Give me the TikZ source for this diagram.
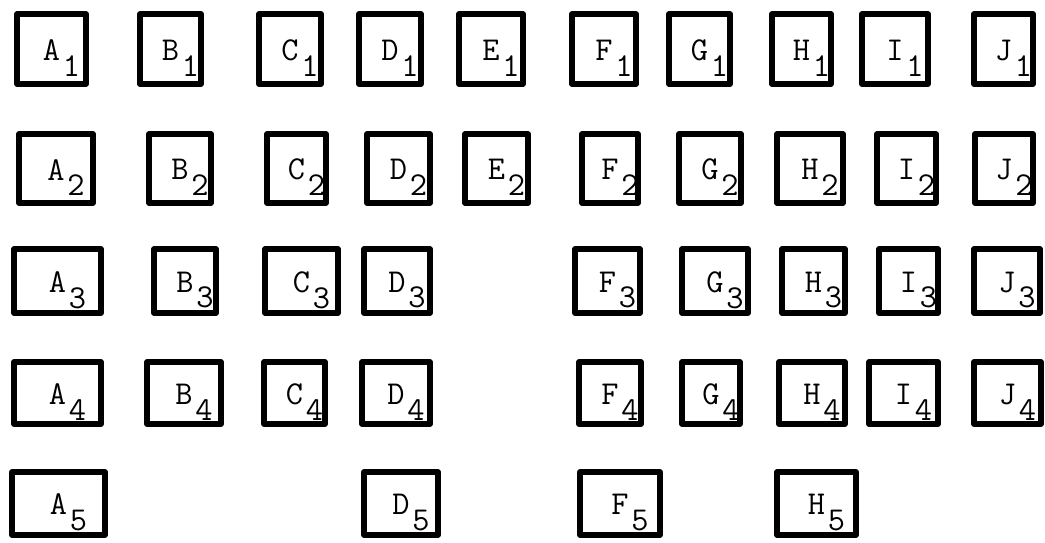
\documentclass[tikz,border=0pt]{standalone}
\usepackage{tikz}
% letter with its index set low, typewriter style
\newcommand{\cellname}[2]{#1\kern1.5pt\raisebox{-9pt}{#2}}

\begin{document}
\begin{tikzpicture}[x=0.02cm, y=-0.02cm,
  cell/.style={draw=black, line width=3pt, line join=round, inner sep=0pt},
  tag/.style={font=\fontsize{19}{21}\selectfont\ttfamily, inner sep=0pt,
    xshift=0.2cm, yshift=-0.18cm}]
  \fill[white] (0,0) rectangle (1045,542);
  % Row 1
  \foreach \n/\cx/\cy/\w/\h/\l/\d in {
      a1/51.5/49/69/70/A/1, b1/170.5/49/61/70/B/1, c1/290/49/62/70/C/1,
      d1/390/49/62/70/D/1, e1/491/49/64/70/E/1, f1/604/49/64/70/F/1,
      g1/699.5/49/61/70/G/1, h1/801.5/49/59/70/H/1, i1/895/49/66/70/I/1,
      j1/1003.5/49/59/70/J/1,
  % Row 2
      a2/56/168.5/74/69/A/2, b2/180/168.5/62/69/B/2, c2/296.5/168.5/59/69/C/2,
      d2/398.5/168.5/63/69/D/2, e2/496.5/168.5/63/69/E/2, f2/610/168.5/56/69/F/2,
      g2/710/168.5/62/69/G/2, h2/810/168.5/66/69/H/2, i2/906.5/168.5/59/69/I/2,
      j2/1004/168.5/58/69/J/2,
  % Row 3 (no E)
      a3/57.5/281/87/64/A/3, b3/185/281/62/64/B/3, c3/301.5/281/73/64/C/3,
      d3/397/281/66/64/D/3, f3/607.5/281/65/64/F/3, g3/715/281/66/64/G/3,
      h3/813.5/281/63/64/H/3, i3/908.5/281/59/64/I/3, j3/1007/281/66/64/J/3,
  % Row 4
      a4/57.5/393/87/62/A/4, b4/184/393/74/62/B/4, c4/294.5/393/61/62/C/4,
      d4/396/393/68/62/D/4, f4/610/393/62/62/F/4, g4/711/393/58/62/G/4,
      h4/812/393/66/62/H/4, i4/903.5/393/69/62/I/4, j4/1007.5/393/67/62/J/4,
  % Row 5
      a5/58.5/503.5/93/63/A/5, d5/401/503.5/74/63/D/5, f5/620/503.5/80/63/F/5,
      h5/816.5/503.5/79/63/H/5}
  {
    \node[cell, minimum width=\w*0.02cm, minimum height=\h*0.02cm] (\n) at (\cx,\cy) {};
    \node[tag] (t\n) at (\n) {\cellname{\l}{\d}};
  }
\end{tikzpicture}
\end{document}
